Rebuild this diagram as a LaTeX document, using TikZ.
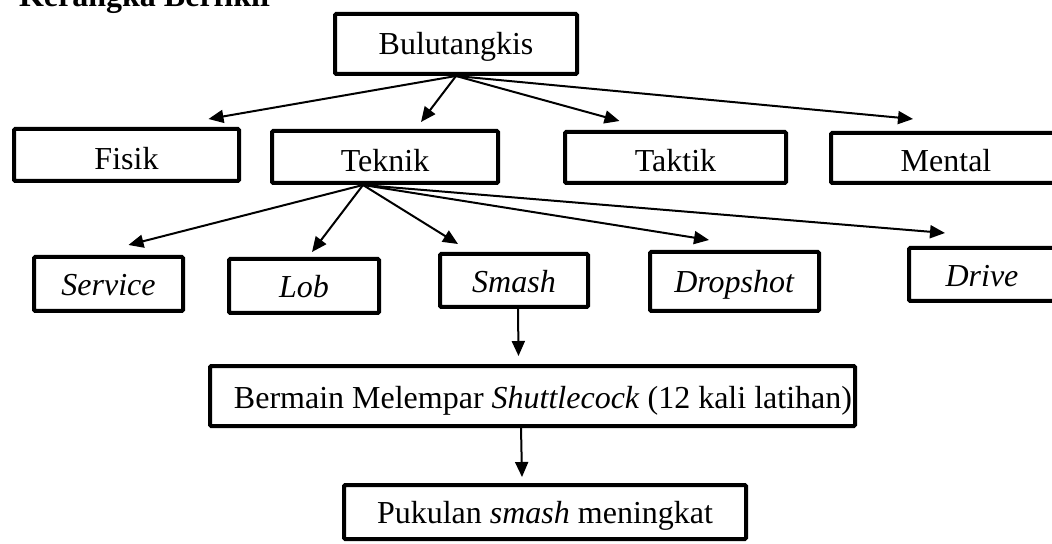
\documentclass[tikz,border=0pt]{standalone}
\usepackage{fontspec}
\setmainfont{Liberation Serif}
\usetikzlibrary{arrows.meta}

\begin{document}
\begin{tikzpicture}[x=0.5pt,y=-0.5pt,
  kotak/.style={draw, rectangle, line width=2pt, rounded corners=0.6pt, inner sep=0pt, text height=15pt, text depth=3pt, font=\fontsize{16}{19}\selectfont},
  panah/.style={line width=1pt, -{Triangle[length=7.5pt,width=6.5pt]}}]
\useasboundingbox (0,0) rectangle (1052,544);
\node[anchor=base west, font=\fontsize{16}{19}\selectfont\bfseries] (judul) at (12,7){Kerangka Berfikir};
\node[kotak, text height=14pt, minimum width=121pt, minimum height=30pt] (bulu) at (456,44){Bulutangkis};
\node[kotak, text height=18pt, minimum width=112.5pt, minimum height=26pt] (fisik) at (126.5,155){Fisik};
\node[kotak, text height=18pt, minimum width=113pt, minimum height=26pt] (teknik) at (385,157){Teknik};
\node[kotak, text height=17.5pt, minimum width=110.5pt, minimum height=25.5pt] (taktik) at (675.5,157.5){Taktik};
\node[kotak, text height=17pt, minimum width=115pt, minimum height=25pt] (mental) at (946,158){Mental};
\draw[panah](bulu.south) -- ([xshift=41pt,yshift=4pt]fisik.north);
\draw[panah](bulu.south) -- ([xshift=18pt,yshift=3.5pt]teknik.north);
\draw[panah](bulu.south) -- ([xshift=-28pt,yshift=4.5pt]taktik.north);
\draw[panah](bulu.south) -- ([xshift=-16.5pt,yshift=6pt]mental.north);
\node[kotak, minimum width=74.5pt, minimum height=27pt] (service) at (108.5,284){\textit{Service}};
\node[kotak, minimum width=75pt, minimum height=27pt] (lob) at (304,286){\textit{Lob}};
\node[kotak, minimum width=74pt, minimum height=26.5pt] (smash) at (514,280.5){\textit{Smash}};
\node[kotak, text height=14pt, minimum width=84.5pt, minimum height=29.5pt] (dropshot) at (734.5,281.5){\textit{Dropshot}};
\node[kotak, minimum width=73pt, minimum height=26.5pt] (drive) at (982,274.5){\textit{Drive}};
\draw[panah]([xshift=-11pt]teknik.south) -- ([xshift=10pt,yshift=5pt]service.north);
\draw[panah]([xshift=-11pt]teknik.south) -- ([xshift=4pt,yshift=2.5pt]lob.north);
\draw[panah]([xshift=-11pt]teknik.south) -- ([xshift=-28pt,yshift=4pt]smash.north);
\draw[panah]([xshift=-11pt]teknik.south) -- ([xshift=-12.75pt,yshift=5pt]dropshot.north);
\draw[panah]([xshift=-11pt]teknik.south) -- ([xshift=-18.5pt,yshift=6.5pt]drive.north);
\node[kotak, inner xsep=1.5pt, text width=319.5pt, align=flush right, minimum height=30pt] (latihan) at (532.5,396){Bermain Melempar \textit{Shuttlecock} (12 kali latihan)};
\node[kotak, text height=14.5pt, minimum width=201pt, minimum height=27pt] (hasil) at (545,512){Pukulan \textit{smash} meningkat};
\draw[panah]([xshift=2pt]smash.south) -- ([xshift=-7pt,yshift=4pt]latihan.north);
\draw[panah]([xshift=-5.75pt]latihan.south) -- ([xshift=-11.5pt,yshift=3pt]hasil.north);
\end{tikzpicture}
\end{document}
